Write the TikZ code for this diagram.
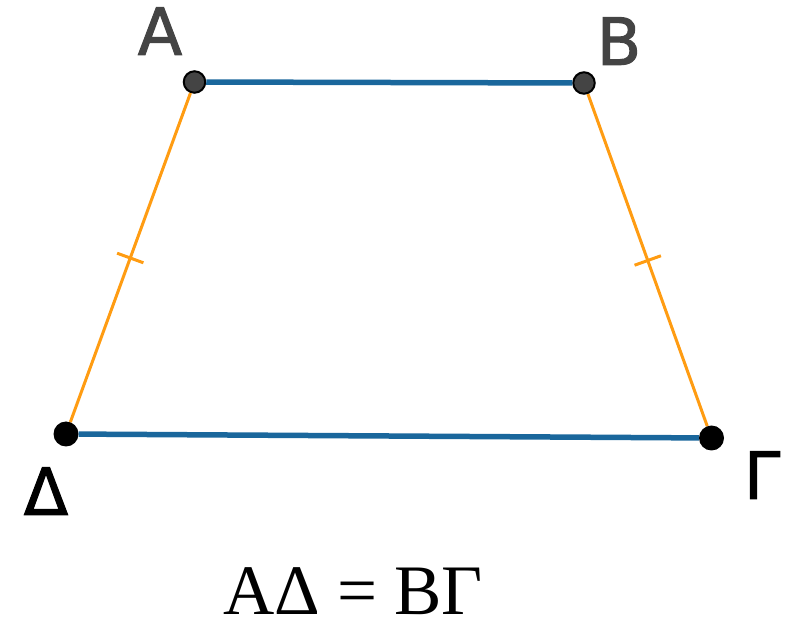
\documentclass[tikz,border=0pt]{standalone}
\usepackage{fontspec}
\usetikzlibrary{calc}
\setmainfont{Liberation Serif}
\newfontfamily\labfont[FakeBold=1.6]{DejaVu Sans}
\definecolor{segblue}{HTML}{1A679C}
\definecolor{segorange}{HTML}{FF9C12}
\definecolor{ptgray}{HTML}{444444}
\begin{document}
\begin{tikzpicture}[x=1pt,y=-1pt,
  bluseg/.style={segblue,line width=5.5pt},
  orseg/.style={segorange,line width=3pt},
  ptg/.style={circle,fill=ptgray,draw=black,line width=2pt,minimum size=21.5pt,inner sep=0pt},
  ptb/.style={circle,fill=black,minimum size=25pt,inner sep=0pt},
  lab/.style={font=\labfont\fontsize{65}{65}\selectfont,inner sep=0pt}]
\useasboundingbox (0,0) rectangle (788,620);
\node[ptg] (pA) at (194.5,82) {};
\node[ptg] (pB) at (584,83) {};
\node[ptb] (pD) at (66,434) {};
\node[ptb] (pG) at (711.5,438) {};
\draw[orseg] (pA) -- (pD);
\draw[orseg] (pB) -- (pG);
\draw[bluseg] (pA) -- (pB);
\draw[bluseg] (pD) -- (pG);
% ticks
\draw[orseg] ($(pA.center)!0.5!(pD.center)!14pt!90:(pD.center)$) -- ($(pA.center)!0.5!(pD.center)!14pt!-90:(pD.center)$);
\draw[orseg] ($(pB.center)!0.5!(pG.center)!14pt!90:(pG.center)$) -- ($(pB.center)!0.5!(pG.center)!14pt!-90:(pG.center)$);
\node[lab,text=ptgray,anchor=south] (lA) at (160,55) {A};
\node[lab,text=ptgray,anchor=south] (lB) at (619,65) {B};
\node[lab,anchor=south] (lD) at (46,515) {Δ};
\node[lab,anchor=south] (lG) at (762,499) {Γ};
\node[font=\fontsize{71}{71}\selectfont,inner sep=0pt,text depth=0pt,anchor=base] (eq) at (353,614) {AΔ\hspace{0.24em}=\hspace{0.24em}BΓ};
\end{tikzpicture}
\end{document}
